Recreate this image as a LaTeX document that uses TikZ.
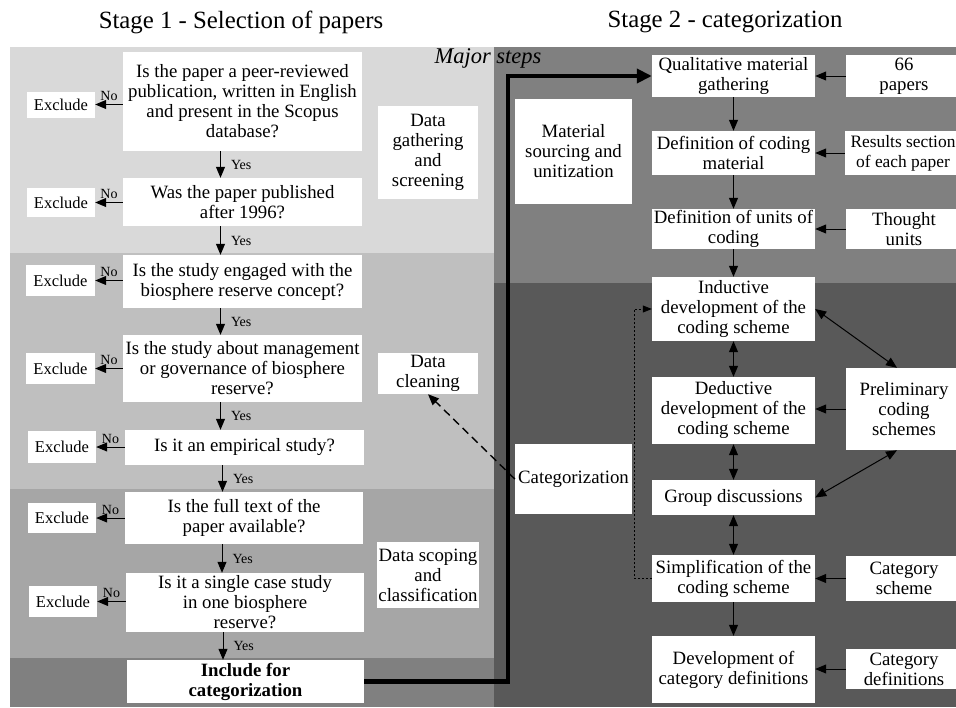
\documentclass[tikz,border=0pt]{standalone}
\usepackage{fontspec}
\setmainfont{Liberation Serif}
\usetikzlibrary{arrows.meta}
\definecolor{bgA}{HTML}{D9D9D9}
\definecolor{bgB}{HTML}{BFBFBF}
\definecolor{bgC}{HTML}{A6A6A6}
\definecolor{bgD}{HTML}{808080}
\definecolor{bgE}{HTML}{595959}
\begin{document}
\begin{tikzpicture}[x=1pt,y=-1pt,
  wbox/.style={fill=white, draw=none, align=center, inner sep=1pt, font=\fontsize{18.8}{20}\selectfont},
  exbox/.style={wbox, font=\fontsize{16.5}{20}\selectfont},
  arr/.style={-{Triangle[length=11pt,width=9pt]}, line width=1pt},
  darr/.style={{Triangle[length=11pt,width=9pt]}-{Triangle[length=11pt,width=9pt]}, line width=1pt},
  lbl/.style={font=\fontsize{14}{15}\selectfont, inner sep=1pt},
  ttl/.style={font=\fontsize{24.8}{28}\selectfont}]
\useasboundingbox (0,0) rectangle (956,707);
\clip (0,0) rectangle (956,707);
% backgrounds
\fill[white] (0,0) rectangle (956,707);
\fill[bgA] (10,47) rectangle (494,253);
\fill[bgB] (10,253) rectangle (494,489);
\fill[bgC] (10,489) rectangle (494,658);
\fill[bgD] (10,658) rectangle (494,707);
\fill[bgD] (494,47) rectangle (956,283);
\fill[bgE] (494,283) rectangle (956,707);
% titles
\node[ttl] (t1) at (241,22) {Stage 1 - Selection of papers};
\node[ttl] (t2) at (725,22) {Stage 2 - categorization};
\node[font=\fontsize{22.5}{24}\selectfont\itshape, inner sep=0pt] (major) at (488,58) {Major steps};
% stage 1 questions
\node[wbox, minimum width=239pt, minimum height=99pt] (q1) at (242.5,101.5) {Is the paper a peer-reviewed\\publication, written in English\\and present in the Scopus\\database?};
\node[wbox, minimum width=239pt, minimum height=48pt] (q2) at (242.5,202) {Was the paper published\\after 1996?};
\node[wbox, minimum width=239pt, minimum height=53pt] (q3) at (242.5,281.5) {Is the study engaged with the\\biosphere reserve concept?};
\node[wbox, minimum width=239pt, minimum height=67pt] (q4) at (242.5,368.5) {Is the study about management\\or governance of biosphere\\reserve?};
\node[wbox, minimum width=239pt, minimum height=35pt] (q5) at (244.5,447.5) {Is it an empirical study?};
\node[wbox, minimum width=238pt, minimum height=52pt] (q6) at (244,518) {Is the full text of the\\paper available?};
\node[wbox, minimum width=238pt, minimum height=59pt] (q7) at (245,602.5) {Is it a single case study\\in one biosphere\\reserve?};
\node[wbox, minimum width=237pt, minimum height=43pt, font=\fontsize{18.8}{20}\selectfont\bfseries] (inc) at (245.5,681.5) {Include for\\categorization};
% excludes
\node[exbox, minimum width=68pt, minimum height=26pt] (e1) at (61,104.5) {Exclude};
\node[exbox, minimum width=68pt, minimum height=29pt] (e2) at (61,202.5) {Exclude};
\node[exbox, minimum width=69pt, minimum height=31pt] (e3) at (60.5,280.5) {Exclude};
\node[exbox, minimum width=69pt, minimum height=31pt] (e4) at (60.5,368.5) {Exclude};
\node[exbox, minimum width=68pt, minimum height=32pt] (e5) at (62,447) {Exclude};
\node[exbox, minimum width=68pt, minimum height=30pt] (e6) at (62,518) {Exclude};
\node[exbox, minimum width=68pt, minimum height=31pt] (e7) at (63,601.5) {Exclude};
% stage labels left
\node[wbox, minimum width=100pt, minimum height=93pt] (dg) at (428,152.5) {Data\\gathering\\and\\screening};
\node[wbox, minimum width=100pt, minimum height=41pt] (dc) at (428,373.5) {Data\\cleaning};
\node[wbox, minimum width=100pt, minimum height=66pt] (ds) at (428,575) {Data scoping\\and\\classification};
% stage 2 main column
\node[wbox, minimum width=163pt, minimum height=42pt] (qmg) at (733.5,76) {Qualitative material\\gathering};
\node[wbox, minimum width=163pt, minimum height=44pt] (dcm) at (733.5,153) {Definition of coding\\material};
\node[wbox, minimum width=163pt, minimum height=40pt] (duc) at (733.5,229) {Definition of units of\\coding};
\node[wbox, minimum width=163pt, minimum height=64pt] (ind) at (733.5,309) {Inductive\\development of the\\coding scheme};
\node[wbox, minimum width=163pt, minimum height=67pt] (ded) at (733.5,410.5) {Deductive\\development of the\\coding scheme};
\node[wbox, minimum width=163pt, minimum height=35pt] (gd) at (733.5,497.5) {Group discussions};
\node[wbox, minimum width=163pt, minimum height=47pt] (sim) at (733.5,578.5) {Simplification of the\\coding scheme};
\node[wbox, minimum width=163pt, minimum height=67pt] (dev) at (733.5,669.5) {Development of\\category definitions};
% stage 2 right column
\node[wbox, minimum width=116pt, minimum height=42pt] (p66) at (904,76) {66\\papers};
\node[wbox, minimum width=116pt, minimum height=44pt, font=\fontsize{17.4}{20}\selectfont] (res) at (903,153) {Results section\\of each paper};
\node[wbox, minimum width=116pt, minimum height=40pt] (tho) at (904,229) {Thought\\units};
\node[wbox, minimum width=116pt, minimum height=82pt] (pre) at (904,409) {Preliminary\\coding\\schemes};
\node[wbox, minimum width=116pt, minimum height=45pt] (cats) at (904,578.5) {Category\\scheme};
\node[wbox, minimum width=116pt, minimum height=40pt] (catd) at (904,669) {Category\\definitions};
% stage 2 left labels
\node[wbox, minimum width=117pt, minimum height=105pt] (msu) at (573.5,151.5) {Material\\sourcing and\\unitization};
\node[wbox, minimum width=117pt, minimum height=70pt] (cat) at (573.5,479) {Categorization};
% stage 1 arrows
\foreach \q/\e in {q1/e1,q2/e2,q3/e3,q4/e4,q5/e5,q6/e6,q7/e7}{
  \draw[arr] (\q.west |- \e.east) -- (\e.east) node[lbl, midway, above=2pt] {No};
}
\foreach \a/\b in {q1/q2,q2/q3,q3/q4,q4/q5,q5/q6,q6/q7,q7/inc}{
  \draw[arr] ([xshift=-22pt]\a.south) -- ([xshift=-22pt]\a.south |- \b.north) node[lbl, midway, right=9pt] {Yes};
}
% thick connector
\coordinate (bend) at (508,0);
\draw[line width=4.3pt, -{Triangle[length=15pt,width=14pt]}] (inc.east) -- (inc.east -| bend) -- (bend |- qmg.west) -- (qmg.west);
% dashed
\draw[line width=1.4pt, dash pattern=on 8pt off 5pt, -{Triangle[length=11pt,width=9pt]}] (cat.west) -- (dc.south);
% dotted
\coordinate (dotx) at (634,0);
\draw[line width=0.8pt, dash pattern=on 2pt off 2pt, -{Triangle[length=9pt,width=7pt]}] (sim.west) -- (sim.west -| dotx) -- (dotx |- ind.west) -- (ind.west);
% stage 2 arrows
\draw[arr] (qmg) -- (dcm);
\draw[arr] (dcm) -- (duc);
\draw[arr] (duc) -- (ind);
\draw[darr] (ind) -- (ded);
\draw[darr] (ded) -- (gd);
\draw[darr] (gd) -- (sim);
\draw[arr] (sim) -- (dev);
\draw[arr] (p66.west) -- (qmg.east);
\draw[arr] (res.west) -- (dcm.east);
\draw[arr] (tho.west) -- (duc.east);
\draw[arr] (pre.west) -- (ded.east |- pre.west);
\draw[arr] (cats.west) -- (sim.east);
\draw[arr] (catd.west) -- (dev.east |- catd.west);
\draw[darr] (ind.east) -- ([xshift=-7pt]pre.north);
\draw[darr] (gd.east) -- ([xshift=-7pt]pre.south);
\end{tikzpicture}
\end{document}
